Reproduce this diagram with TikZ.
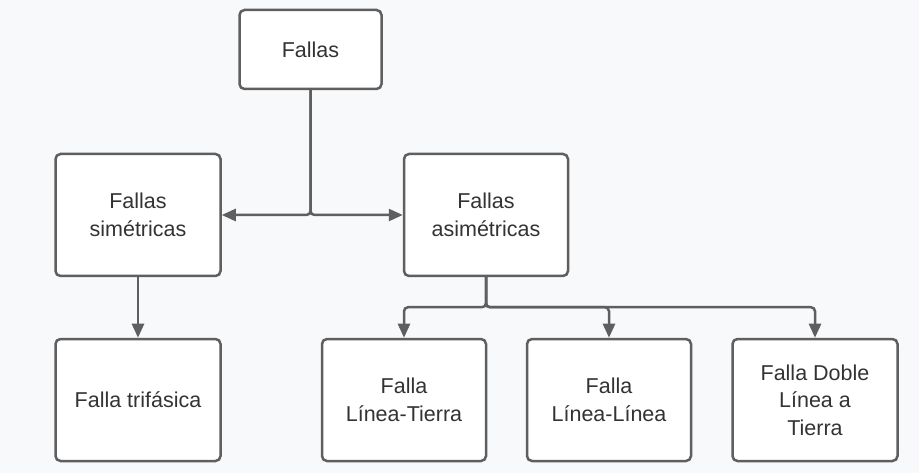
\documentclass[tikz,border=0pt]{standalone}
\usepackage{fontspec}
\setmainfont{Liberation Sans}
\usetikzlibrary{arrows.meta}
\definecolor{lineGray}{HTML}{5F5F5F}
\definecolor{textGray}{HTML}{333333}
\definecolor{paperGray}{HTML}{F8F9FB}
\begin{document}
\begin{tikzpicture}[x=1pt,y=-1pt,
    box/.style={draw=lineGray, fill=white, line width=2.5pt, rounded corners=5pt,
      align=center, text=textGray, font=\fontsize{21.5}{27.5}\selectfont,
      minimum height=122pt, minimum width=165pt, inner sep=0pt},
    link/.style={draw=lineGray, line width=2.5pt, rounded corners=4pt,
      -{Triangle[length=14pt,width=12pt]}}]
  %% Page size and background
  \fill[paperGray] (0,0) rectangle (919,473);
  %% Boxes
  \node[box, minimum width=142pt, minimum height=79pt] (fallas) at (310.5,49.5) {Fallas};
  \node[box] (sim) at (138,215) {Fallas\\sim\'etricas};
  \node[box, minimum width=164pt] (asim) at (486,215) {Fallas\\asim\'etricas};
  \node[box] (tri) at (138,400) {Falla trif\'asica};
  \node[box, minimum width=164pt] (lt) at (404,400) {Falla\\L\'inea-Tierra};
  \node[box, minimum width=164pt] (ll) at (609,400) {Falla\\L\'inea-L\'inea};
  \node[box] (dlt) at (815,400) {Falla Doble\\L\'inea a\\Tierra};
  %% Connectors
  \draw[link] (fallas.south) |- (sim.east);
  \draw[link] (fallas.south) |- (asim.west);
  \draw[link] (sim.south) -- (tri.north);
  \draw[link] (asim.south) -- ++(0,30) -| (lt.north);
  \draw[link] (asim.south) -- ++(0,30) -| (ll.north);
  \draw[link] (asim.south) -- ++(0,30) -| (dlt.north);
\end{tikzpicture}
\end{document}
